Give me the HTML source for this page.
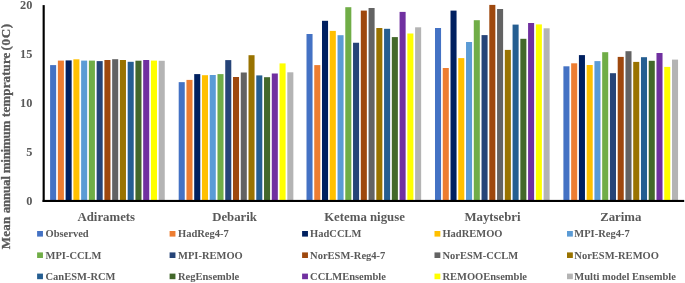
<!DOCTYPE html>
<html><head><meta charset="utf-8"><title>Chart</title>
<style>html,body{margin:0;padding:0;background:#fff}svg{display:block;will-change:transform}text{font-family:"Liberation Serif","Times New Roman",serif;font-weight:bold;fill:#595959}</style></head><body>
<svg width="685" height="283" viewBox="0 0 685 283">
<rect width="685" height="283" fill="#fff"/>
<rect x="50.10" y="65.10" width="6.05" height="135.40" fill="#4472C4"/>
<rect x="57.86" y="60.60" width="6.05" height="139.90" fill="#ED7D31"/>
<rect x="65.61" y="60.40" width="6.05" height="140.10" fill="#002060"/>
<rect x="73.37" y="59.30" width="6.05" height="141.20" fill="#FFC000"/>
<rect x="81.13" y="60.60" width="6.05" height="139.90" fill="#5B9BD5"/>
<rect x="88.88" y="60.60" width="6.05" height="139.90" fill="#70AD47"/>
<rect x="96.64" y="61.10" width="6.05" height="139.40" fill="#264478"/>
<rect x="104.40" y="60.00" width="6.05" height="140.50" fill="#9E480E"/>
<rect x="112.16" y="59.20" width="6.05" height="141.30" fill="#636363"/>
<rect x="119.91" y="60.00" width="6.05" height="140.50" fill="#997300"/>
<rect x="127.67" y="61.80" width="6.05" height="138.70" fill="#255E91"/>
<rect x="135.43" y="60.70" width="6.05" height="139.80" fill="#43682B"/>
<rect x="143.18" y="60.00" width="6.05" height="140.50" fill="#7030A0"/>
<rect x="150.94" y="60.60" width="6.05" height="139.90" fill="#FFFF00"/>
<rect x="158.70" y="60.80" width="6.05" height="139.70" fill="#B4B4B4"/>
<rect x="178.70" y="82.15" width="6.05" height="118.35" fill="#4472C4"/>
<rect x="186.46" y="79.90" width="6.05" height="120.60" fill="#ED7D31"/>
<rect x="194.21" y="74.10" width="6.05" height="126.40" fill="#002060"/>
<rect x="201.97" y="75.20" width="6.05" height="125.30" fill="#FFC000"/>
<rect x="209.73" y="75.00" width="6.05" height="125.50" fill="#5B9BD5"/>
<rect x="217.48" y="74.10" width="6.05" height="126.40" fill="#70AD47"/>
<rect x="225.24" y="60.10" width="6.05" height="140.40" fill="#264478"/>
<rect x="233.00" y="77.00" width="6.05" height="123.50" fill="#9E480E"/>
<rect x="240.76" y="72.50" width="6.05" height="128.00" fill="#636363"/>
<rect x="248.51" y="55.20" width="6.05" height="145.30" fill="#997300"/>
<rect x="256.27" y="75.40" width="6.05" height="125.10" fill="#255E91"/>
<rect x="264.03" y="77.20" width="6.05" height="123.30" fill="#43682B"/>
<rect x="271.78" y="73.50" width="6.05" height="127.00" fill="#7030A0"/>
<rect x="279.54" y="63.40" width="6.05" height="137.10" fill="#FFFF00"/>
<rect x="287.30" y="72.30" width="6.05" height="128.20" fill="#B4B4B4"/>
<rect x="306.50" y="34.00" width="6.05" height="166.50" fill="#4472C4"/>
<rect x="314.26" y="65.10" width="6.05" height="135.40" fill="#ED7D31"/>
<rect x="322.01" y="20.80" width="6.05" height="179.70" fill="#002060"/>
<rect x="329.77" y="30.90" width="6.05" height="169.60" fill="#FFC000"/>
<rect x="337.53" y="35.20" width="6.05" height="165.30" fill="#5B9BD5"/>
<rect x="345.28" y="7.20" width="6.05" height="193.30" fill="#70AD47"/>
<rect x="353.04" y="42.75" width="6.05" height="157.75" fill="#264478"/>
<rect x="360.80" y="10.60" width="6.05" height="189.90" fill="#9E480E"/>
<rect x="368.56" y="8.00" width="6.05" height="192.50" fill="#636363"/>
<rect x="376.31" y="28.00" width="6.05" height="172.50" fill="#997300"/>
<rect x="384.07" y="28.80" width="6.05" height="171.70" fill="#255E91"/>
<rect x="391.83" y="37.10" width="6.05" height="163.40" fill="#43682B"/>
<rect x="399.58" y="11.90" width="6.05" height="188.60" fill="#7030A0"/>
<rect x="407.34" y="33.50" width="6.05" height="167.00" fill="#FFFF00"/>
<rect x="415.10" y="27.30" width="6.05" height="173.20" fill="#B4B4B4"/>
<rect x="435.00" y="28.00" width="6.05" height="172.50" fill="#4472C4"/>
<rect x="442.76" y="68.00" width="6.05" height="132.50" fill="#ED7D31"/>
<rect x="450.51" y="10.60" width="6.05" height="189.90" fill="#002060"/>
<rect x="458.27" y="58.10" width="6.05" height="142.40" fill="#FFC000"/>
<rect x="466.03" y="42.00" width="6.05" height="158.50" fill="#5B9BD5"/>
<rect x="473.78" y="20.20" width="6.05" height="180.30" fill="#70AD47"/>
<rect x="481.54" y="35.10" width="6.05" height="165.40" fill="#264478"/>
<rect x="489.30" y="4.90" width="6.05" height="195.60" fill="#9E480E"/>
<rect x="497.06" y="9.00" width="6.05" height="191.50" fill="#636363"/>
<rect x="504.81" y="49.90" width="6.05" height="150.60" fill="#997300"/>
<rect x="512.57" y="24.60" width="6.05" height="175.90" fill="#255E91"/>
<rect x="520.33" y="38.80" width="6.05" height="161.70" fill="#43682B"/>
<rect x="528.08" y="23.00" width="6.05" height="177.50" fill="#7030A0"/>
<rect x="535.84" y="24.40" width="6.05" height="176.10" fill="#FFFF00"/>
<rect x="543.60" y="28.30" width="6.05" height="172.20" fill="#B4B4B4"/>
<rect x="563.40" y="66.30" width="6.05" height="134.20" fill="#4472C4"/>
<rect x="571.16" y="63.30" width="6.05" height="137.20" fill="#ED7D31"/>
<rect x="578.91" y="55.10" width="6.05" height="145.40" fill="#002060"/>
<rect x="586.67" y="65.00" width="6.05" height="135.50" fill="#FFC000"/>
<rect x="594.43" y="61.10" width="6.05" height="139.40" fill="#5B9BD5"/>
<rect x="602.18" y="52.20" width="6.05" height="148.30" fill="#70AD47"/>
<rect x="609.94" y="73.20" width="6.05" height="127.30" fill="#264478"/>
<rect x="617.70" y="56.90" width="6.05" height="143.60" fill="#9E480E"/>
<rect x="625.46" y="51.20" width="6.05" height="149.30" fill="#636363"/>
<rect x="633.21" y="61.90" width="6.05" height="138.60" fill="#997300"/>
<rect x="640.97" y="57.20" width="6.05" height="143.30" fill="#255E91"/>
<rect x="648.73" y="60.80" width="6.05" height="139.70" fill="#43682B"/>
<rect x="656.48" y="53.00" width="6.05" height="147.50" fill="#7030A0"/>
<rect x="664.24" y="66.90" width="6.05" height="133.60" fill="#FFFF00"/>
<rect x="672.00" y="59.60" width="6.05" height="140.90" fill="#B4B4B4"/>
<rect x="42.6" y="5.1" width="2.15" height="196.9" fill="#000"/>
<rect x="42.6" y="199.9" width="641.6" height="2.1" fill="#000"/>
<text x="32.4" y="204.60" font-size="12.3" text-anchor="end">0</text>
<text x="32.4" y="155.68" font-size="12.3" text-anchor="end">5</text>
<text x="32.4" y="106.75" font-size="12.3" text-anchor="end">10</text>
<text x="32.4" y="57.82" font-size="12.3" text-anchor="end">15</text>
<text x="32.4" y="8.90" font-size="12.3" text-anchor="end">20</text>
<text x="106.3" y="220.8" font-size="12.8" text-anchor="middle">Adiramets</text>
<text x="234.6" y="220.8" font-size="12.8" text-anchor="middle">Debarik</text>
<text x="364.5" y="220.8" font-size="12.8" text-anchor="middle">Ketema niguse</text>
<text x="492.5" y="220.8" font-size="12.8" text-anchor="middle">Maytsebri</text>
<text x="620.8" y="220.8" font-size="12.8" text-anchor="middle">Zarima</text>
<text transform="translate(9.5,249.2) rotate(-90)" font-size="13" textLength="32.5" lengthAdjust="spacing" stroke="#595959" stroke-width="0.3">Mean</text>
<text transform="translate(9.5,213.2) rotate(-90)" font-size="13" textLength="37.2" lengthAdjust="spacing" stroke="#595959" stroke-width="0.3">annual</text>
<text transform="translate(9.5,173.3) rotate(-90)" font-size="13" textLength="52.7" lengthAdjust="spacing" stroke="#595959" stroke-width="0.3">minimum</text>
<text transform="translate(9.5,117.0) rotate(-90)" font-size="13" textLength="64.4" lengthAdjust="spacing" stroke="#595959" stroke-width="0.3">temprature</text>
<text transform="translate(9.5,50.4) rotate(-90)" font-size="13" textLength="26.4" lengthAdjust="spacing" stroke="#595959" stroke-width="0.3">(0C)</text>
<rect x="37.1" y="231.0" width="5.85" height="5.6" fill="#4472C4"/>
<text x="45.5" y="236.8" font-size="10.5">Observed</text>
<rect x="169.6" y="231.0" width="5.85" height="5.6" fill="#ED7D31"/>
<text x="178.0" y="236.8" font-size="10.5">HadReg4-7</text>
<rect x="302.1" y="231.0" width="5.85" height="5.6" fill="#002060"/>
<text x="310.1" y="236.8" font-size="10.5">HadCCLM</text>
<rect x="434.5" y="231.0" width="5.85" height="5.6" fill="#FFC000"/>
<text x="442.4" y="236.8" font-size="10.5">HadREMOO</text>
<rect x="567.0" y="231.0" width="5.85" height="5.6" fill="#5B9BD5"/>
<text x="574.3" y="236.8" font-size="10.5">MPI-Reg4-7</text>
<rect x="37.1" y="252.4" width="5.85" height="5.6" fill="#70AD47"/>
<text x="45.5" y="258.6" font-size="10.5">MPI-CCLM</text>
<rect x="169.6" y="252.4" width="5.85" height="5.6" fill="#264478"/>
<text x="178.0" y="258.6" font-size="10.5">MPI-REMOO</text>
<rect x="302.1" y="252.4" width="5.85" height="5.6" fill="#9E480E"/>
<text x="310.1" y="258.6" font-size="10.5">NorESM-Reg4-7</text>
<rect x="434.5" y="252.4" width="5.85" height="5.6" fill="#636363"/>
<text x="442.4" y="258.6" font-size="10.5">NorESM-CCLM</text>
<rect x="567.0" y="252.4" width="5.85" height="5.6" fill="#997300"/>
<text x="574.3" y="258.6" font-size="10.5">NorESM-REMOO</text>
<rect x="37.1" y="273.6" width="5.85" height="5.6" fill="#255E91"/>
<text x="45.5" y="279.6" font-size="10.5">CanESM-RCM</text>
<rect x="169.6" y="273.6" width="5.85" height="5.6" fill="#43682B"/>
<text x="178.0" y="279.6" font-size="10.5">RegEnsemble</text>
<rect x="302.1" y="273.6" width="5.85" height="5.6" fill="#7030A0"/>
<text x="310.1" y="279.6" font-size="10.5">CCLMEnsemble</text>
<rect x="434.5" y="273.6" width="5.85" height="5.6" fill="#FFFF00"/>
<text x="442.4" y="279.6" font-size="10.5">REMOOEnsemble</text>
<rect x="567.0" y="273.6" width="5.85" height="5.6" fill="#B4B4B4"/>
<text x="574.3" y="279.6" font-size="10.5">Multi model Ensemble</text>
</svg></body></html>
